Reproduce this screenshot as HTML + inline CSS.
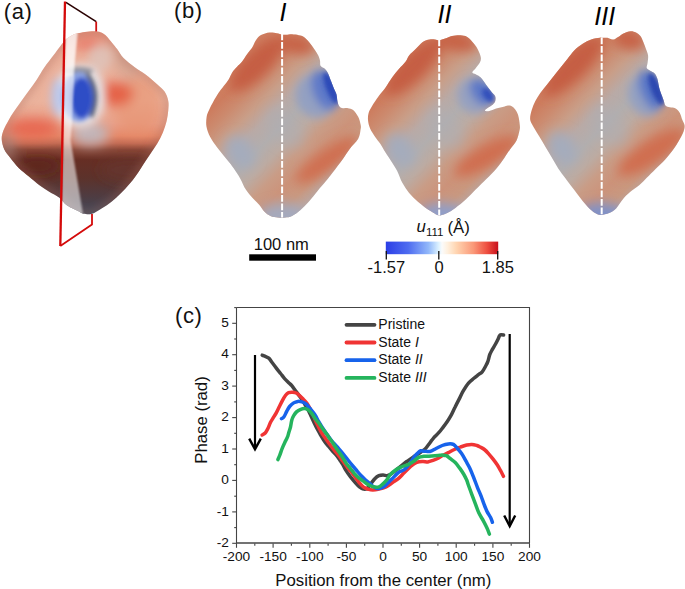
<!DOCTYPE html>
<html><head><meta charset="utf-8"><style>
html,body{margin:0;padding:0;background:#fff;width:685px;height:589px;overflow:hidden}
svg{display:block}
text{font-family:"Liberation Sans",sans-serif;fill:#111}
.tk{font-size:13.7px}
.lg{font-size:14px}
.at{font-size:16.75px}
.pl{font-size:22px;letter-spacing:0.6px}
.rn{font-size:25px;font-style:italic;fill:#000}
.sb{font-size:16.5px}
.cb{font-size:16.5px}
.ul{font-size:16.8px}
</style></head><body>
<svg width="685" height="589" viewBox="0 0 685 589">
<defs><filter id="bl2" x="-50%" y="-50%" width="200%" height="200%"><feGaussianBlur stdDeviation="2"/></filter><filter id="bl3" x="-50%" y="-50%" width="200%" height="200%"><feGaussianBlur stdDeviation="3"/></filter><filter id="bl6" x="-50%" y="-50%" width="200%" height="200%"><feGaussianBlur stdDeviation="6"/></filter><filter id="bl4" x="-50%" y="-50%" width="200%" height="200%"><feGaussianBlur stdDeviation="4"/></filter><filter id="bl1" x="-50%" y="-50%" width="200%" height="200%"><feGaussianBlur stdDeviation="1"/></filter><linearGradient id="cbg" x1="0" x2="1" y1="0" y2="0">
<stop offset="0" stop-color="#2b3ee6"/>
<stop offset="0.2" stop-color="#4e6cf0"/>
<stop offset="0.38" stop-color="#92b8fa"/>
<stop offset="0.47" stop-color="#dcf2ff"/>
<stop offset="0.5" stop-color="#fbfbfb"/>
<stop offset="0.55" stop-color="#fff0de"/>
<stop offset="0.63" stop-color="#ffd4b0"/>
<stop offset="0.78" stop-color="#fa9878"/>
<stop offset="0.9" stop-color="#ee4f40"/>
<stop offset="1" stop-color="#c8101c"/>
</linearGradient></defs>
<clipPath id="clipA"><path d="M66.9,38.5C69.4,36.4 72.7,34.9 75,33.9C77.3,32.9 78.6,33.1 80.9,32.7C83.2,32.3 86.5,31.7 89,31.5C91.5,31.3 93.8,31.1 96,31.3C98.2,31.5 100.1,31.9 101.9,32.7C103.7,33.5 104.8,34.5 106.6,36.2C108.3,38 110.7,41.1 112.4,43.2C114.2,45.3 115.2,46.5 117.1,49C118.9,51.5 120.6,55 123.5,58C126.4,61 131,64.5 134.7,67.3C138.4,70.1 142.2,72 145.9,74.8C149.6,77.6 154,81.4 157.1,84.2C160.2,87 162.7,88.8 164.6,91.6C166.5,94.4 167.7,97.9 168.3,101C168.9,104.1 168.6,106.9 168.3,110.3C168,113.7 167.5,117.5 166.6,121.2C165.7,124.9 164.4,128.7 162.9,132.4C161.4,136.1 159.5,139.9 157.3,143.6C155.1,147.3 152.3,151.1 149.8,154.8C147.3,158.5 144.8,162.2 142.3,166C139.8,169.8 137.6,173.6 134.8,177.3C132,181.1 128.6,185.1 125.5,188.5C122.4,191.9 119.3,195 116.2,197.8C113.1,200.6 109.9,203.1 106.8,205.3C103.7,207.5 100.1,209.5 97.5,210.9C94.9,212.3 93.5,213.5 91.2,214C88.9,214.5 85.5,214.1 83.5,213.7C81.5,213.3 81.6,212.8 78.9,211.4C76.2,210.1 70.5,207.9 67.2,205.6C63.9,203.3 62.1,199.7 59.1,197.4C56.1,195.1 52.5,193.8 49.2,191.7C45.9,189.6 42.5,187.4 39.1,184.9C35.7,182.4 32.3,179.2 28.9,176.4C25.5,173.6 21.8,171 18.7,167.9C15.6,164.8 12.6,160.8 10.2,157.7C7.8,154.6 5.6,152.3 4.2,149.2C2.8,146.1 1.8,142.2 1.7,139.1C1.6,136 2.3,133.7 3.4,130.6C4.5,127.5 6.8,123.5 8.5,120.4C10.2,117.3 11.7,115 13.8,111.8C16,108.6 18.9,104.7 21.4,101.1C23.9,97.5 26.4,94 29,90.4C31.6,86.8 34.2,83.5 36.7,79.7C39.2,75.9 41.5,71.6 44.3,67.5C47.1,63.4 50.9,58.8 53.5,55.3C56.1,51.8 57.7,49.5 59.9,46.7C62.1,43.9 64.4,40.6 66.9,38.5Z"/></clipPath>
<linearGradient id="bgA" gradientUnits="userSpaceOnUse" x1="0" y1="31" x2="0" y2="215">
<stop offset="0" stop-color="#e8937c"/><stop offset="0.12" stop-color="#eaae98"/><stop offset="0.38" stop-color="#ebb39d"/>
<stop offset="0.5" stop-color="#e9a088"/><stop offset="0.57" stop-color="#e58868"/><stop offset="0.61" stop-color="#c46c54"/>
<stop offset="0.645" stop-color="#8a4838"/><stop offset="0.7" stop-color="#662e24"/><stop offset="0.8" stop-color="#5c322b"/>
<stop offset="0.9" stop-color="#4e3c42"/><stop offset="1" stop-color="#404a5c"/></linearGradient>
<g clip-path="url(#clipA)"><rect x="0" y="25" width="175" height="195" fill="url(#bgA)"/>
<g filter="url(#bl6)">
<ellipse cx="138" cy="105" rx="24" ry="30" fill="#e8906c" opacity="0.55" transform="rotate(0 138 105)"/>
<ellipse cx="33" cy="128" rx="26" ry="10" fill="#e8604a" opacity="0.85" transform="rotate(0 33 128)"/>
<ellipse cx="115" cy="94" rx="18" ry="12" fill="#e45a40" opacity="0.9" transform="rotate(0 115 94)"/>
<ellipse cx="88" cy="44" rx="14" ry="6" fill="#e86a58" opacity="0.7" transform="rotate(0 88 44)"/>
<ellipse cx="90" cy="134" rx="19" ry="12" fill="#bcbcc6" opacity="0.85" transform="rotate(0 90 134)"/>
<ellipse cx="130" cy="170" rx="30" ry="12" fill="#6a3a30" opacity="0.5" transform="rotate(0 130 170)"/>
<ellipse cx="8" cy="146" rx="7" ry="14" fill="#9a8a88" opacity="0.6" transform="rotate(0 8 146)"/>
<ellipse cx="125" cy="65" rx="10" ry="18" fill="#c8a090" opacity="0.5" transform="rotate(-40 125 65)"/>
<ellipse cx="38" cy="166" rx="22" ry="9" fill="#5a1e16" opacity="0.6" transform="rotate(0 38 166)"/>
</g>
<g filter="url(#bl4)">
<ellipse cx="100" cy="58" rx="12" ry="14" fill="#d8ccc8" opacity="0.6" transform="rotate(0 100 58)"/>
<path d="M66.9,38.5C69.4,36.4 72.7,34.9 75,33.9C77.3,32.9 78.6,33.1 80.9,32.7C83.2,32.3 86.5,31.7 89,31.5C91.5,31.3 93.8,31.1 96,31.3C98.2,31.5 100.1,31.9 101.9,32.7C103.7,33.5 104.8,34.5 106.6,36.2C108.3,38 110.7,41.1 112.4,43.2C114.2,45.3 115.2,46.5 117.1,49C118.9,51.5 120.6,55 123.5,58C126.4,61 131,64.5 134.7,67.3C138.4,70.1 142.2,72 145.9,74.8C149.6,77.6 154,81.4 157.1,84.2C160.2,87 162.7,88.8 164.6,91.6C166.5,94.4 167.7,97.9 168.3,101C168.9,104.1 168.6,106.9 168.3,110.3C168,113.7 167.5,117.5 166.6,121.2C165.7,124.9 164.4,128.7 162.9,132.4C161.4,136.1 159.5,139.9 157.3,143.6C155.1,147.3 152.3,151.1 149.8,154.8C147.3,158.5 144.8,162.2 142.3,166C139.8,169.8 137.6,173.6 134.8,177.3C132,181.1 128.6,185.1 125.5,188.5C122.4,191.9 119.3,195 116.2,197.8C113.1,200.6 109.9,203.1 106.8,205.3C103.7,207.5 100.1,209.5 97.5,210.9C94.9,212.3 93.5,213.5 91.2,214C88.9,214.5 85.5,214.1 83.5,213.7C81.5,213.3 81.6,212.8 78.9,211.4C76.2,210.1 70.5,207.9 67.2,205.6C63.9,203.3 62.1,199.7 59.1,197.4C56.1,195.1 52.5,193.8 49.2,191.7C45.9,189.6 42.5,187.4 39.1,184.9C35.7,182.4 32.3,179.2 28.9,176.4C25.5,173.6 21.8,171 18.7,167.9C15.6,164.8 12.6,160.8 10.2,157.7C7.8,154.6 5.6,152.3 4.2,149.2C2.8,146.1 1.8,142.2 1.7,139.1C1.6,136 2.3,133.7 3.4,130.6C4.5,127.5 6.8,123.5 8.5,120.4C10.2,117.3 11.7,115 13.8,111.8C16,108.6 18.9,104.7 21.4,101.1C23.9,97.5 26.4,94 29,90.4C31.6,86.8 34.2,83.5 36.7,79.7C39.2,75.9 41.5,71.6 44.3,67.5C47.1,63.4 50.9,58.8 53.5,55.3C56.1,51.8 57.7,49.5 59.9,46.7C62.1,43.9 64.4,40.6 66.9,38.5Z" fill="none" stroke="#a86a5c" stroke-width="5" opacity="0.55"/>
<ellipse cx="80" cy="96" rx="26" ry="32" fill="#e4e2e6" opacity="0.95" transform="rotate(0 80 96)"/>
<ellipse cx="58" cy="97" rx="7" ry="19" fill="#b4c6f0" opacity="0.85" transform="rotate(0 58 97)"/>
</g>
<g filter="url(#bl2)">
<ellipse cx="79" cy="71" rx="14" ry="4" fill="#7e808c" opacity="0.8" transform="rotate(0 79 71)"/>
<ellipse cx="79" cy="97" rx="17" ry="25" fill="#88a0e4" opacity="0.95" transform="rotate(0 79 97)"/>
<ellipse cx="81.5" cy="98" rx="11" ry="20.5" fill="#2e4ec6" opacity="1" transform="rotate(0 81.5 98)"/>
<path d="M87,74Q101,92 91,117" stroke="#353a48" stroke-width="3.5" fill="none" opacity="0.9"/>
</g>
<path d="M66,30L78,30L75,60L72,122L70.5,140L83,214L61,214L63,140L64.5,60Z" fill="#fff" opacity="0.55" filter="url(#bl1)"/>
<path d="M66,32L77,32L74.5,60L72.5,76L65,76Z" fill="#fff" opacity="0.5" filter="url(#bl1)"/>
</g>
<path d="M65.9,2.4L96.2,21.6" stroke="#2a0202" stroke-width="1.6" fill="none"/>
<path d="M96.2,21.6V31.5" stroke="#d01010" stroke-width="1.8" fill="none"/>
<path d="M65,1.5L60.3,246" stroke="#d40a0a" stroke-width="2.3" fill="none"/>
<path d="M60.3,246L92,224.5V214" stroke="#d40a0a" stroke-width="1.8" fill="none" stroke-linejoin="round"/>
<clipPath id="clip1"><path d="M282,34.6C283.5,34.9 284.3,34.8 286,34.8C287.7,34.8 289.9,34.2 292,34.3C294.1,34.4 296.8,34.8 298.8,35.2C300.8,35.6 302.2,35.8 303.9,36.9C305.6,38 307.3,40 309,42C310.7,44 312.4,46.5 314,48.8C315.6,51.1 317.3,53.6 318.3,55.6C319.3,57.6 319.6,59 320,60.7C320.4,62.4 319.8,64.4 320.5,65.7C321.2,67 323,67.2 324.2,68.3C325.4,69.4 326.5,70.4 327.6,72.5C328.7,74.6 330,78.5 331,81C332,83.5 332.7,85.5 333.6,87.8C334.5,90.1 335.9,92.3 336.5,94.6C337.1,96.9 337,99.4 337.5,101.4C338,103.4 338.6,105.4 339.5,106.5C340.4,107.6 341.5,107.9 342.9,108.2C344.3,108.5 346.3,107.9 348,108.2C349.7,108.5 351.4,108.5 353.1,109.9C354.8,111.3 356.9,114.2 358.2,116.7C359.5,119.2 360.3,122.8 360.7,125C361.1,127.2 360.9,127.7 360.5,130C360.1,132.3 360,135.5 358.2,138.7C356.4,141.8 352.2,145.5 349.7,148.9C347.1,152.3 345.7,155.1 342.9,159C340.1,162.9 335.5,168.9 332.7,172.6C329.9,176.3 328.6,178 326,181.1C323.4,184.2 320.2,187.9 317.4,191.3C314.6,194.7 311.8,198.4 309,201.5C306.2,204.6 303.3,207.6 300.5,210C297.7,212.4 294.6,214.7 292,215.9C289.4,217.1 287.5,217.2 285.2,217.4C282.9,217.7 280.4,217.7 278,217.4C275.6,217.2 272.8,216.9 270.5,215.9C268.2,214.9 266.4,213.5 264.5,211.7C262.6,209.9 261.4,207.2 259.4,204.9C257.4,202.6 254.9,200.7 252.6,198.1C250.3,195.5 247.8,192.7 245.8,189.6C243.8,186.5 242.2,182.2 240.7,179.4C239.1,176.6 238.2,175.2 236.5,172.6C234.8,170 232.7,166.9 230.6,164.1C228.5,161.3 226.1,158.5 223.8,155.7C221.5,152.9 219.3,150.3 217,147.2C214.7,144.1 211.9,140.4 210.2,137C208.4,133.6 207.1,130.1 206.5,126.8C205.9,123.5 206.2,119.8 206.6,117C207,114.2 208,112.4 209.2,109.8C210.3,107.2 211.9,104.1 213.5,101.3C215.1,98.5 216.9,95.3 218.6,92.8C220.3,90.2 222,88.3 223.7,86C225.4,83.7 227.4,81.5 228.8,79.2C230.2,76.9 230.8,74.5 232.2,72.4C233.6,70.3 235.8,68.2 237.3,66.5C238.9,64.8 239.8,64.4 241.5,62.3C243.2,60.2 245.6,56.3 247.4,53.8C249.2,51.2 251.1,49.3 252.5,47C253.9,44.7 254.5,42.2 255.9,40.2C257.3,38.2 258.7,36.4 261,35.1C263.3,33.8 266.8,32.8 269.5,32.5C272.2,32.2 274.9,32.9 277,33.3C279.1,33.6 280.5,34.4 282,34.6Z"/></clipPath>
<linearGradient id="bg1" gradientUnits="userSpaceOnUse" x1="230" y1="72" x2="336" y2="178"><stop offset="0.000" stop-color="#cf8062"/><stop offset="0.087" stop-color="#cd7c5e"/><stop offset="0.180" stop-color="#cc8a6e"/><stop offset="0.287" stop-color="#c99e88"/><stop offset="0.393" stop-color="#b9aaa6"/><stop offset="0.500" stop-color="#b2aeae"/><stop offset="0.600" stop-color="#bcaba2"/><stop offset="0.700" stop-color="#c99c86"/><stop offset="0.800" stop-color="#cc937a"/><stop offset="0.900" stop-color="#c9987f"/><stop offset="1.000" stop-color="#b8a8a6"/></linearGradient>
<g clip-path="url(#clip1)"><rect x="193" y="20" width="190" height="210" fill="url(#bg1)"/>
<g filter="url(#bl6)">
<ellipse cx="257" cy="64" rx="36" ry="13" fill="#c55d41" opacity="0.95" transform="rotate(-45 257 64)"/>
<ellipse cx="298" cy="45" rx="17" ry="9" fill="#c65c40" opacity="0.9" transform="rotate(10 298 45)"/>
<ellipse cx="240" cy="152" rx="13" ry="18" fill="#a3acbf" opacity="0.9" transform="rotate(-35 240 152)"/>
<ellipse cx="285" cy="128" rx="14" ry="24" fill="#aeaeb4" opacity="0.5" transform="rotate(-40 285 128)"/>
<ellipse cx="327" cy="160" rx="38" ry="10" fill="#d0694b" opacity="0.9" transform="rotate(-36 327 160)"/>
<ellipse cx="282" cy="216" rx="24" ry="13" fill="#a2aac0" opacity="0.95" transform="rotate(0 282 216)"/>
</g>
<g filter="url(#bl4)">
<ellipse cx="316" cy="96" rx="20" ry="22" fill="#8d9ec6" opacity="0.85" transform="rotate(-20 316 96)"/>
<ellipse cx="325" cy="90" rx="12" ry="21" fill="#5b77c8" opacity="0.95" transform="rotate(-22 325 90)"/>
</g>
<g filter="url(#bl2)">
<ellipse cx="331" cy="88" rx="5" ry="17" fill="#2b49b8" opacity="1" transform="rotate(-22 331 88)"/>
</g>
</g>
<clipPath id="clip2"><path d="M439.2,40.3C440.9,40.2 443.1,39.3 445.2,38.6C447.3,37.9 449.5,36.6 452,36C454.5,35.4 457.9,35.1 460.4,35.2C462.9,35.4 464.9,35.5 467.2,36.9C469.5,38.3 472.1,41.5 474,43.7C475.9,46 477.2,48.1 478.3,50.4C479.4,52.6 480.5,55.2 480.8,57.2C481.1,59.2 480.9,60.4 480,62.3C479.1,64.1 477,66.6 475.7,68.3C474.4,70 472.3,71.5 472.3,72.5C472.3,73.5 474.3,73.4 475.7,74.2C477.1,75 479.1,75.9 480.8,77.6C482.5,79.3 484.2,82.1 485.9,84.4C487.6,86.7 489.4,89.2 491,91.2C492.6,93.2 494.5,94.6 495.2,96.3C495.9,98 495.6,99.9 495.2,101.3C494.8,102.7 494,103.6 492.7,104.7C491.4,105.8 488.9,107.1 487.6,108.1C486.3,109.1 484.7,110.2 485,110.7C485.3,111.2 487.4,111.3 489.3,111C491.2,110.7 493.6,109.4 496.1,108.6C498.7,107.8 502.3,106.9 504.6,106.4C506.9,105.9 508.1,105.2 509.7,105.6C511.3,105.9 513,107 514.4,108.5C515.8,110 517.2,112.2 518.1,114.9C519,117.7 519.6,122.4 519.8,125C520,127.6 520.1,127.9 519.5,130.5C518.9,133.1 517.9,137.6 516.4,140.7C514.9,143.8 512.7,145.5 510.3,148.9C507.9,152.3 504.9,157.4 502.2,161.1C499.5,164.8 497.2,167.9 494.1,171.3C491.1,174.7 487,178.4 483.9,181.4C480.8,184.4 478.8,186.5 475.7,189.6C472.6,192.7 468.9,196.8 465.5,199.8C462.1,202.9 458.4,205.7 455.4,207.9C452.3,210.1 449.6,211.8 447.2,213C444.8,214.2 442.6,214.8 441.1,215.2C439.6,215.6 439.4,215.6 438,215.2C436.6,214.8 434.9,213.7 432.9,212.5C430.9,211.3 428.7,210 426.1,208.2C423.6,206.3 420.4,203.9 417.6,201.4C414.8,198.9 411.7,196.1 409.1,193C406.6,189.9 404.3,186.5 402.3,182.8C400.3,179.1 398.9,174.3 397.2,170.9C395.5,167.5 394.1,165.5 392.1,162.4C390.1,159.3 387.4,155.3 385.4,152.2C383.4,149.1 382,146.3 380.3,143.8C378.6,141.3 376.9,139.6 375.2,137C373.5,134.4 371.3,131.3 370.1,128.5C368.9,125.7 368.2,122.6 368,120C367.8,117.4 368,115.3 368.6,113C369.2,110.7 370.1,109.2 371.8,106.4C373.5,103.6 376.3,99.4 378.6,96.3C380.9,93.2 383.1,90.9 385.4,87.8C387.6,84.7 389.9,80.7 392.1,77.6C394.4,74.5 396.6,71.8 398.9,69.1C401.2,66.4 404,63.8 405.7,61.5C407.4,59.2 407.4,57.6 409.1,55.5C410.8,53.4 413.6,51 415.9,48.8C418.2,46.5 420.4,43.6 422.7,42C425,40.4 427.4,39.8 429.5,39.4C431.6,39 433.4,39.2 435,39.4C436.6,39.5 437.5,40.4 439.2,40.3Z"/></clipPath>
<linearGradient id="bg2" gradientUnits="userSpaceOnUse" x1="390" y1="72" x2="496" y2="178"><stop offset="0.000" stop-color="#cf8062"/><stop offset="0.087" stop-color="#cd7c5e"/><stop offset="0.180" stop-color="#cc8a6e"/><stop offset="0.287" stop-color="#c99e88"/><stop offset="0.393" stop-color="#b9aaa6"/><stop offset="0.500" stop-color="#b2aeae"/><stop offset="0.600" stop-color="#bcaba2"/><stop offset="0.700" stop-color="#c99c86"/><stop offset="0.800" stop-color="#cc937a"/><stop offset="0.900" stop-color="#c9987f"/><stop offset="1.000" stop-color="#b8a8a6"/></linearGradient>
<g clip-path="url(#clip2)"><rect x="353" y="20" width="190" height="210" fill="url(#bg2)"/>
<g filter="url(#bl6)">
<ellipse cx="413" cy="67" rx="38" ry="13" fill="#c55d41" opacity="0.95" transform="rotate(-45 413 67)"/>
<ellipse cx="458" cy="42" rx="20" ry="9" fill="#c65c40" opacity="0.9" transform="rotate(10 458 42)"/>
<ellipse cx="400" cy="150" rx="13" ry="18" fill="#a3acbf" opacity="0.9" transform="rotate(-35 400 150)"/>
<ellipse cx="445" cy="128" rx="14" ry="24" fill="#aeaeb4" opacity="0.5" transform="rotate(-40 445 128)"/>
<ellipse cx="487" cy="156" rx="37" ry="11" fill="#d0694b" opacity="0.9" transform="rotate(-30 487 156)"/>
<ellipse cx="441" cy="216" rx="24" ry="13" fill="#8c9ece" opacity="0.95" transform="rotate(0 441 216)"/>
</g>
<g filter="url(#bl4)">
<ellipse cx="474" cy="96" rx="16" ry="18" fill="#8d9ec6" opacity="0.8" transform="rotate(-30 474 96)"/>
<ellipse cx="482" cy="92" rx="10" ry="15" fill="#5a76c8" opacity="0.95" transform="rotate(-35 482 92)"/>
</g>
<g filter="url(#bl2)">
<ellipse cx="488" cy="95" rx="4.5" ry="8" fill="#3250bb" opacity="1" transform="rotate(-35 488 95)"/>
</g>
</g>
<clipPath id="clip3"><path d="M602.1,37.8C603.4,37.8 605.7,37.5 607.5,37.8C609.3,38.1 611,39.8 612.8,39.6C614.6,39.5 616.4,37.9 618.2,36.9C620,35.9 621.4,34.4 623.5,33.4C625.6,32.4 628.5,31.3 630.6,31.2C632.7,31.1 634.4,31.7 636,32.5C637.6,33.3 639.2,34.5 640.4,36C641.6,37.5 642.2,39.3 643.1,41.4C644,43.5 645,46.1 645.8,48.5C646.6,50.9 647.8,53.2 648.1,55.6C648.4,58 647.8,60.7 647.6,62.8C647.4,64.9 646.3,66.8 646.7,68.1C647.1,69.4 648.9,69.9 650.2,70.8C651.5,71.7 653.5,72.2 654.7,73.5C655.9,74.8 656.6,76.4 657.4,78.8C658.1,81.2 658.6,85.3 659.2,87.7C659.8,90.1 660.2,91 660.9,93.1C661.6,95.2 662.9,98.1 663.6,100.2C664.4,102.3 664.4,104.3 665.4,105.5C666.4,106.7 668.3,106.8 669.9,107.3C671.5,107.8 673.6,107.3 675.2,108.2C676.8,109.1 678.5,110.8 679.7,112.7C680.9,114.6 681.5,117.8 682.3,119.8C683.1,121.8 684.2,123.3 684.5,125C684.8,126.7 684.5,128.2 684,130C683.5,131.8 683.1,133.1 681.5,136C679.9,138.9 677.2,143.8 674.5,147.7C671.8,151.6 668.3,155.9 665.2,159.4C662.1,162.9 658.9,165.6 655.8,168.7C652.7,171.8 649.2,175.4 646.5,178.1C643.8,180.8 642.2,182.8 639.5,185.1C636.8,187.4 632.8,189.8 630.1,192.1C627.4,194.4 625.4,196.4 623.1,199.1C620.8,201.8 618.4,206.1 616.1,208.4C613.8,210.7 611.6,212 609.1,213.1C606.6,214.2 603.2,215 600.9,215C598.6,215 597.2,214.4 595.1,213.1C593,211.8 590.4,209.6 588.1,207.3C585.8,205 583.4,202 581.1,199.1C578.8,196.2 576.5,192.8 574.1,189.7C571.8,186.6 569.4,183.5 567,180.4C564.6,177.3 562.3,174.6 560,171.1C557.7,167.6 555.3,163.3 553,159.4C550.7,155.5 548.3,151.6 546,147.7C543.7,143.8 541.3,139.9 539,136C536.7,132.1 533.5,127.2 532,124.3C530.5,121.3 530.1,120.7 530.1,118.3C530.1,115.9 530.9,112.6 531.8,109.8C532.6,107 533.8,104.1 535.2,101.3C536.6,98.5 538.3,95.7 540.3,92.9C542.3,90.1 544.9,87.2 547.1,84.4C549.4,81.6 551.5,78.7 553.8,75.9C556,73.1 558.3,70.2 560.6,67.4C562.9,64.6 565.1,61.7 567.4,58.9C569.7,56.1 571.7,52.9 574.2,50.4C576.8,47.9 579.9,45.5 582.7,43.7C585.5,41.9 588.4,40.4 591.2,39.4C594,38.4 597.9,38 599.7,37.7C601.5,37.4 600.8,37.8 602.1,37.8Z"/></clipPath>
<linearGradient id="bg3" gradientUnits="userSpaceOnUse" x1="554" y1="70" x2="660" y2="176"><stop offset="0.000" stop-color="#cf8062"/><stop offset="0.087" stop-color="#cd7c5e"/><stop offset="0.180" stop-color="#cc8a6e"/><stop offset="0.287" stop-color="#c99e88"/><stop offset="0.393" stop-color="#b9aaa6"/><stop offset="0.500" stop-color="#b2aeae"/><stop offset="0.600" stop-color="#bcaba2"/><stop offset="0.700" stop-color="#c99c86"/><stop offset="0.800" stop-color="#cc937a"/><stop offset="0.900" stop-color="#c9987f"/><stop offset="1.000" stop-color="#b8a8a6"/></linearGradient>
<g clip-path="url(#clip3)"><rect x="517" y="20" width="190" height="210" fill="url(#bg3)"/>
<g filter="url(#bl6)">
<ellipse cx="573" cy="66" rx="40" ry="13" fill="#c55d41" opacity="0.95" transform="rotate(-45 573 66)"/>
<ellipse cx="630" cy="40" rx="16" ry="10" fill="#c65c40" opacity="0.9" transform="rotate(10 630 40)"/>
<ellipse cx="562" cy="148" rx="13" ry="18" fill="#a3acbf" opacity="0.9" transform="rotate(-35 562 148)"/>
<ellipse cx="609" cy="126" rx="14" ry="24" fill="#aeaeb4" opacity="0.5" transform="rotate(-40 609 126)"/>
<ellipse cx="652" cy="152" rx="40" ry="12" fill="#d0694b" opacity="0.9" transform="rotate(-33 652 152)"/>
<ellipse cx="601" cy="216" rx="24" ry="13" fill="#7b90cc" opacity="0.95" transform="rotate(0 601 216)"/>
</g>
<g filter="url(#bl4)">
<ellipse cx="645" cy="96" rx="16" ry="21" fill="#8d9ec6" opacity="0.85" transform="rotate(-20 645 96)"/>
<ellipse cx="651" cy="90" rx="10" ry="21" fill="#5674c6" opacity="0.95" transform="rotate(-22 651 90)"/>
</g>
<g filter="url(#bl2)">
<ellipse cx="656" cy="89" rx="5" ry="17" fill="#2947b0" opacity="1" transform="rotate(-22 656 89)"/>
</g>
</g>
<path d="M282.1,33.5V217.5" stroke="#fff" stroke-width="2" stroke-dasharray="6.7 1.8"/>
<path d="M439.2,39.5V215.5" stroke="#fff" stroke-width="2" stroke-dasharray="6.7 1.8"/>
<path d="M601.7,37.5V215.5" stroke="#fff" stroke-width="2" stroke-dasharray="6.7 1.8"/>
<text x="3.8" y="19.2" class="pl">(a)</text>
<text x="174" y="18" class="pl">(b)</text>
<text x="175" y="323.2" class="pl">(c)</text>
<text x="279.6" y="20.6" class="rn">I</text>
<text x="437.6" y="22.8" class="rn">II</text>
<text x="594.3" y="24.5" class="rn">III</text>
<rect x="249.2" y="254.3" width="66.8" height="6.4" fill="#000"/>
<text x="281.3" y="250" text-anchor="middle" class="sb">100 nm</text>
<rect x="385.8" y="241.6" width="112.4" height="12.6" fill="url(#cbg)"/>
<path d="M386.3,251V259.5M438.8,251V259.5M497.7,251V259.5" stroke="#111" stroke-width="1.3"/>
<text x="386.3" y="272.6" text-anchor="middle" class="cb">-1.57</text>
<text x="439" y="272.6" text-anchor="middle" class="cb">0</text>
<text x="497.8" y="272.6" text-anchor="middle" class="cb">1.85</text>
<text x="416.6" y="231.6" class="ul"><tspan font-style="italic">u</tspan><tspan font-size="11.5" dy="4.3">111</tspan><tspan dy="-3.1" dx="4">(Å)</tspan></text>
<path d="M236.5,307.5H529.5V543.5" fill="none" stroke="#444" stroke-width="1.1"/>
<path d="M236.5,307.5V543.5" fill="none" stroke="#444" stroke-width="1.1"/>
<path d="M236,543H530" fill="none" stroke="#444" stroke-width="1.3"/>
<path d="M236.5,543.5v4.3" stroke="#444" stroke-width="1.1"/>
<text x="236.5" y="560.8" text-anchor="middle" class="tk">-200</text>
<path d="M254.8,543.5v2.3" stroke="#444" stroke-width="1.1"/>
<path d="M273.1,543.5v4.3" stroke="#444" stroke-width="1.1"/>
<text x="273.1" y="560.8" text-anchor="middle" class="tk">-150</text>
<path d="M291.4,543.5v2.3" stroke="#444" stroke-width="1.1"/>
<path d="M309.8,543.5v4.3" stroke="#444" stroke-width="1.1"/>
<text x="309.8" y="560.8" text-anchor="middle" class="tk">-100</text>
<path d="M328.1,543.5v2.3" stroke="#444" stroke-width="1.1"/>
<path d="M346.4,543.5v4.3" stroke="#444" stroke-width="1.1"/>
<text x="346.4" y="560.8" text-anchor="middle" class="tk">-50</text>
<path d="M364.7,543.5v2.3" stroke="#444" stroke-width="1.1"/>
<path d="M383,543.5v4.3" stroke="#444" stroke-width="1.1"/>
<text x="383" y="560.8" text-anchor="middle" class="tk">0</text>
<path d="M401.3,543.5v2.3" stroke="#444" stroke-width="1.1"/>
<path d="M419.6,543.5v4.3" stroke="#444" stroke-width="1.1"/>
<text x="419.6" y="560.8" text-anchor="middle" class="tk">50</text>
<path d="M437.9,543.5v2.3" stroke="#444" stroke-width="1.1"/>
<path d="M456.2,543.5v4.3" stroke="#444" stroke-width="1.1"/>
<text x="456.2" y="560.8" text-anchor="middle" class="tk">100</text>
<path d="M474.6,543.5v2.3" stroke="#444" stroke-width="1.1"/>
<path d="M492.9,543.5v4.3" stroke="#444" stroke-width="1.1"/>
<text x="492.9" y="560.8" text-anchor="middle" class="tk">150</text>
<path d="M511.2,543.5v2.3" stroke="#444" stroke-width="1.1"/>
<path d="M529.5,543.5v4.3" stroke="#444" stroke-width="1.1"/>
<text x="529.5" y="560.8" text-anchor="middle" class="tk">200</text>
<path d="M236.5,543.3h-4.3" stroke="#444" stroke-width="1.1"/>
<text x="228.8" y="547" text-anchor="end" class="tk">-2</text>
<path d="M236.5,527.6h-2.3" stroke="#444" stroke-width="1.1"/>
<path d="M236.5,511.9h-4.3" stroke="#444" stroke-width="1.1"/>
<text x="228.8" y="515.6" text-anchor="end" class="tk">-1</text>
<path d="M236.5,496.2h-2.3" stroke="#444" stroke-width="1.1"/>
<path d="M236.5,480.4h-4.3" stroke="#444" stroke-width="1.1"/>
<text x="228.8" y="484.1" text-anchor="end" class="tk">0</text>
<path d="M236.5,464.7h-2.3" stroke="#444" stroke-width="1.1"/>
<path d="M236.5,449h-4.3" stroke="#444" stroke-width="1.1"/>
<text x="228.8" y="452.7" text-anchor="end" class="tk">1</text>
<path d="M236.5,433.3h-2.3" stroke="#444" stroke-width="1.1"/>
<path d="M236.5,417.6h-4.3" stroke="#444" stroke-width="1.1"/>
<text x="228.8" y="421.3" text-anchor="end" class="tk">2</text>
<path d="M236.5,401.9h-2.3" stroke="#444" stroke-width="1.1"/>
<path d="M236.5,386.1h-4.3" stroke="#444" stroke-width="1.1"/>
<text x="228.8" y="389.8" text-anchor="end" class="tk">3</text>
<path d="M236.5,370.4h-2.3" stroke="#444" stroke-width="1.1"/>
<path d="M236.5,354.7h-4.3" stroke="#444" stroke-width="1.1"/>
<text x="228.8" y="358.4" text-anchor="end" class="tk">4</text>
<path d="M236.5,339h-2.3" stroke="#444" stroke-width="1.1"/>
<path d="M236.5,323.3h-4.3" stroke="#444" stroke-width="1.1"/>
<text x="228.8" y="327" text-anchor="end" class="tk">5</text>
<path d="M236.5,307.6h-2.3" stroke="#444" stroke-width="1.1"/>
<path d="M262.2,355.2C262.6,355.4 263.7,355.7 264.8,356.2C265.9,356.7 267.6,357.2 268.8,358.2C270,359.2 270.6,360.6 271.9,362.3C273.2,364 275.1,366.5 276.5,368.4C277.9,370.3 279.2,371.8 280.6,373.5C282,375.2 283.2,377.1 284.6,378.6C286,380.1 287.5,381.5 288.7,382.7C289.9,383.9 290.8,384.5 291.8,385.7C292.8,386.9 293.8,388.4 294.8,389.8C295.8,391.2 296.7,392.3 297.9,393.9C299.1,395.5 300.8,397.7 302,399.5C303.2,401.3 304,402.9 305,404.6C306,406.3 307,407.9 308,409.8C309,411.7 309.9,413.7 311,416C312.1,418.3 313.4,421.2 314.5,423.5C315.6,425.8 316.7,428 317.8,430C318.9,432 319.9,433.6 321,435.5C322.1,437.4 323.3,439.6 324.6,441.4C325.9,443.2 327.3,444.8 328.7,446.5C330.1,448.2 331.6,450.2 332.9,451.6C334.2,453 335.2,453.7 336.3,455C337.4,456.3 338.5,458 339.5,459.5C340.5,461 341.5,462.4 342.5,464C343.5,465.6 344,467.2 345.3,469.3C346.6,471.4 348.7,474.4 350.4,476.7C352.1,478.9 354,481.1 355.5,482.8C357,484.5 358.3,485.9 359.5,486.9C360.7,487.9 361.4,488.6 362.6,488.9C363.8,489.2 365.4,489.5 366.7,488.7C368,487.9 369.3,485.5 370.7,483.8C372.1,482.1 373.4,480.1 374.8,478.7C376.2,477.3 377.5,476.3 378.9,475.7C380.3,475.1 381.6,475.1 383,475.1C384.4,475.1 385.8,475.8 387,475.7C388.2,475.6 388.9,475.4 390.2,474.6C391.5,473.8 393.4,472.3 395,471C396.6,469.7 398.2,468.4 400,467C401.8,465.6 404.1,463.5 405.5,462.4C406.9,461.3 407.1,461.4 408.5,460.4C409.9,459.4 412,457.9 414,456.5C416,455.1 418.9,453.4 420.7,452.2C422.5,451 423.6,450.3 424.8,449.2C426,448.1 426.9,446.8 427.9,445.5C428.9,444.2 429.9,442.9 430.9,441.5C431.9,440.1 432.7,438.9 434.1,437.3C435.5,435.8 437.7,433.9 439.2,432.2C440.7,430.5 441.8,428.9 443.2,427.1C444.6,425.3 446,423.4 447.3,421.5C448.6,419.6 449.6,418 450.9,415.7C452.2,413.4 453.5,410.2 454.9,407.5C456.2,404.8 457.6,402.1 459,399.4C460.4,396.7 461.5,393.9 463.1,391.2C464.7,388.5 466.7,385.2 468.5,383.1C470.3,381 472.3,379.7 473.9,378.3C475.5,376.9 476.7,376 478.1,374.9C479.5,373.8 481,373.2 482.2,371.8C483.4,370.4 484.4,368.4 485.3,366.7C486.2,365 487.1,363.6 487.8,361.6C488.6,359.6 489,356.5 489.8,354.5C490.6,352.5 491.5,351.1 492.4,349.4C493.3,347.7 494.5,346 495.4,344.3C496.3,342.6 497.3,340.6 498,339.2C498.7,337.8 499,336.4 499.5,335.7C500,334.9 500.3,334.8 501,334.7C501.7,334.6 503.2,334.9 503.6,335" fill="none" stroke="#444444" stroke-width="3.5" stroke-linecap="round" stroke-linejoin="round"/>
<path d="M262.1,435C262.6,434.7 264.3,434 265.2,433C266.1,432 266.8,430.6 267.7,428.9C268.6,427.2 269.4,424.7 270.3,422.8C271.2,420.9 272.3,419.4 273.3,417.7C274.3,416 275.4,414.5 276.4,412.6C277.4,410.7 278.4,408.5 279.4,406.5C280.4,404.5 281.5,402.3 282.5,400.4C283.5,398.5 284.6,396.6 285.6,395.3C286.6,394 287.4,393.2 288.6,392.7C289.8,392.2 291.3,392.1 292.7,392.2C294.1,392.3 295.6,392.6 296.8,393.2C298,393.8 298.8,394.9 299.8,395.8C300.8,396.7 301.9,397.8 302.9,398.8C303.9,399.8 304.9,400.7 305.9,402C306.9,403.3 307.8,404.4 309,406.5C310.2,408.6 311.7,411.6 313,414.5C314.3,417.4 315.4,420.7 316.8,423.6C318.2,426.5 319.6,429.4 321.2,432.1C322.8,434.8 324.7,437.3 326.4,439.7C328.1,442.1 329.8,444.4 331.4,446.5C333,448.6 334.6,450.5 336.2,452.5C337.8,454.5 339.4,456.4 341,458.6C342.6,460.8 344.4,463.4 346,465.5C347.6,467.6 349.2,469.5 350.8,471.5C352.4,473.5 353.9,475.6 355.4,477.5C356.8,479.4 358.1,481.4 359.5,483C360.9,484.6 362.1,486.1 363.6,487.2C365.1,488.3 367.2,488.9 368.7,489.4C370.2,489.8 371.2,489.9 372.8,489.9C374.4,489.9 375.8,489.8 378,489.3C380.2,488.8 383.7,488 386.1,486.9C388.5,485.8 390.2,484.2 392.2,482.8C394.2,481.4 396.3,480.4 398.3,478.7C400.3,477 402.3,474.6 404.4,472.6C406.4,470.6 408.6,468.2 410.6,466.5C412.7,464.8 414.7,463.2 416.7,462.4C418.7,461.5 420.9,461.5 422.8,461.4C424.7,461.3 426.2,462.1 427.9,461.9C429.6,461.7 431.3,461 433,460.4C434.7,459.8 436.6,459.1 438.1,458.3C439.6,457.5 440.5,456.6 442.2,455.7C443.9,454.8 446.3,453.6 448.3,452.6C450.3,451.6 452.3,450.4 454.4,449.5C456.4,448.6 458.6,447.8 460.6,447C462.7,446.2 464.8,445.4 466.7,445C468.6,444.6 470.1,444.3 471.8,444.4C473.5,444.5 475.5,445.1 476.9,445.5C478.3,445.9 478.9,446.3 480.2,447C481.4,447.7 483,448.4 484.4,449.5C485.8,450.6 487.3,452.2 488.7,453.8C490.1,455.4 491.5,457.1 492.9,458.9C494.3,460.7 495.9,462.8 497.2,464.8C498.5,466.8 499.6,468.8 500.6,470.7C501.7,472.6 503,475.4 503.5,476.3" fill="none" stroke="#f03434" stroke-width="3.5" stroke-linecap="round" stroke-linejoin="round"/>
<path d="M281.5,418.7C281.9,418.4 283.1,417.9 284,416.7C284.9,415.5 285.7,413.3 286.6,411.6C287.5,409.9 288.4,407.9 289.6,406.5C290.8,405.1 292.3,403.8 293.7,402.9C295.1,402 296.4,401.6 297.8,401.4C299.2,401.2 300.5,401.5 301.9,401.9C303.2,402.3 304.5,402.8 305.9,403.9C307.2,405 308.8,407.1 310,408.5C311.2,409.9 312,410.8 313,412C314,413.2 314.9,414.4 315.8,416C316.7,417.6 317.5,419.6 318.6,421.5C319.7,423.4 320.9,425.4 322.3,427.5C323.7,429.6 325.3,431.8 326.8,434C328.3,436.2 329.8,438.4 331.5,440.5C333.2,442.6 335,444.4 336.8,446.5C338.6,448.6 340.7,450.8 342.5,453C344.3,455.2 346.1,457.6 347.8,459.8C349.5,462 351.2,464.1 352.8,466C354.4,467.9 356.1,469.8 357.5,471.5C358.9,473.2 360.2,474.7 361.5,476C362.8,477.3 363.8,478.4 365,479.5C366.2,480.6 367.5,481.5 368.7,482.5C369.9,483.5 370.9,484.6 372,485.5C373.1,486.4 374.3,487.3 375.5,487.8C376.7,488.3 377.8,488.7 379,488.6C380.2,488.5 381.8,487.9 383,487.3C384.2,486.7 384.6,486.2 386.1,484.8C387.6,483.4 390.2,480.7 392.2,478.7C394.2,476.7 396.3,474.1 398.3,472.6C400.3,471.1 402.3,471.2 404.4,469.5C406.4,467.8 408.9,464.6 410.6,462.4C412.3,460.2 413.2,458 414.6,456.3C416,454.6 417.7,453.1 418.7,452.2C419.7,451.3 419.7,450.9 420.7,450.7C421.7,450.5 423.3,451.1 424.8,451.2C426.3,451.3 428,451.9 429.9,451.5C431.8,451.1 434.1,449.5 436.1,448.5C438.2,447.5 440.2,446.3 442.2,445.5C444.2,444.7 446.4,444.1 448.3,443.9C450.2,443.7 451.9,443.6 453.4,444.4C454.9,445.2 456.1,447 457.5,448.5C458.9,450 460.2,451.6 461.6,453.6C463,455.6 464.4,458.3 465.7,460.7C467,463.1 468.3,465 469.7,467.9C471.1,470.8 472.7,475 474,478.3C475.3,481.6 476.4,484.8 477.6,487.8C478.8,490.8 480,493.3 481.1,496.1C482.2,498.9 483.1,501.8 484.1,504.4C485.1,507 486,509.4 487.1,511.6C488.2,513.8 489.7,515.7 490.6,517.5C491.5,519.3 492.1,521.5 492.4,522.3" fill="none" stroke="#1763eb" stroke-width="3.5" stroke-linecap="round" stroke-linejoin="round"/>
<path d="M277.9,459.6C278.2,458.8 279.2,456.7 279.9,454.9C280.6,453.1 281.2,450.8 282,448.8C282.8,446.8 283.8,444.6 284.7,442.7C285.6,440.8 286.7,438.9 287.4,437.2C288.1,435.5 288.3,434.2 288.8,432.5C289.3,430.8 290,429 290.5,427C291,425 291.2,422.4 291.7,420.5C292.2,418.6 292.8,417.2 293.7,415.7C294.6,414.2 295.6,412.7 296.8,411.6C298,410.5 299.5,409.8 300.8,409.3C302.1,408.8 303.3,408.5 304.5,408.6C305.7,408.7 306.8,409 308,409.8C309.2,410.6 310.5,411.9 311.7,413.4C312.9,414.8 314,416.9 315.1,418.5C316.2,420.1 317.2,421 318.5,422.7C319.8,424.4 321.3,426.7 322.7,428.7C324.1,430.7 325.6,432.6 327,434.6C328.4,436.6 329.9,438.8 331.2,440.6C332.5,442.5 333.5,444 334.6,445.7C335.7,447.4 336.8,449 338,450.7C339.2,452.4 340.2,453.7 341.6,455.8C343,457.9 344.8,461.3 346.3,463.4C347.8,465.5 349,466.8 350.4,468.5C351.8,470.2 353,472.1 354.4,473.6C355.8,475.1 357.1,476.5 358.5,477.7C359.9,478.9 361.2,479.7 362.6,480.7C364,481.7 365.4,482.9 366.7,483.8C368,484.7 369.3,485.2 370.7,485.8C372.1,486.4 373.4,486.9 374.8,487.1C376.2,487.3 377.5,487.4 378.9,486.9C380.3,486.3 381.6,485 383,483.8C384.4,482.6 385.8,481.2 387,479.7C388.2,478.2 388.6,476.3 390.2,474.6C391.8,472.9 394.3,470.9 396.3,469.5C398.3,468.1 400.4,467.4 402.4,466.5C404.4,465.6 406.6,465.2 408.5,464.4C410.4,463.5 411.9,462.6 413.6,461.4C415.3,460.2 417,458.1 418.7,457.3C420.4,456.5 422.1,456.5 423.8,456.3C425.5,456.1 427,456.4 428.9,456.3C430.8,456.2 433.1,456 435,455.8C436.9,455.6 438.8,455.4 440,455.3C441.2,455.2 441.1,455 442.2,455.1C443.2,455.2 444.9,455.1 446.3,455.7C447.7,456.3 448.9,457.5 450.4,458.7C451.9,459.9 454,461.3 455.5,462.8C457,464.3 458.1,466 459.5,467.9C460.9,469.8 462.4,472 463.6,474C464.8,476 465.9,478.3 466.7,480C467.4,481.7 467.3,482 468.1,484.3C468.9,486.6 470.4,490.6 471.6,493.8C472.8,497 474,500.1 475.2,503.3C476.4,506.5 477.4,509.8 478.8,512.8C480.2,515.8 482.1,518.5 483.5,521.1C484.9,523.7 486.1,526 487.1,528.2C488.1,530.4 489,533.1 489.4,534.1" fill="none" stroke="#25b45d" stroke-width="3.5" stroke-linecap="round" stroke-linejoin="round"/>
<path d="M255,355V448" stroke="#000" stroke-width="2.2" fill="none"/>
<path d="M249.2,438.7L255,449.2L260.8,438.7" stroke="#000" stroke-width="2.4" fill="none"/>
<path d="M509.7,334V525" stroke="#000" stroke-width="2.2" fill="none"/>
<path d="M504.2,515.5L509.7,526.1L515.2,515.5" stroke="#000" stroke-width="2.4" fill="none"/>
<path d="M346.5,324.8H374.5" stroke="#444444" stroke-width="3.8" stroke-linecap="round"/>
<text x="378.3" y="329" class="lg">Pristine</text>
<path d="M346.5,342.5H374.5" stroke="#f03434" stroke-width="3.8" stroke-linecap="round"/>
<text x="378.3" y="346.7" class="lg">State <tspan font-style='italic'>I</tspan></text>
<path d="M346.5,360.2H374.5" stroke="#1763eb" stroke-width="3.8" stroke-linecap="round"/>
<text x="378.3" y="364.4" class="lg">State <tspan font-style='italic'>II</tspan></text>
<path d="M346.5,377.9H374.5" stroke="#25b45d" stroke-width="3.8" stroke-linecap="round"/>
<text x="378.3" y="382.1" class="lg">State <tspan font-style='italic'>III</tspan></text>
<text x="383.3" y="586.2" text-anchor="middle" class="at">Position from the center (nm)</text>
<text transform="translate(206.6,420) rotate(-90)" text-anchor="middle" class="at">Phase (rad)</text>
</svg>
</body></html>
